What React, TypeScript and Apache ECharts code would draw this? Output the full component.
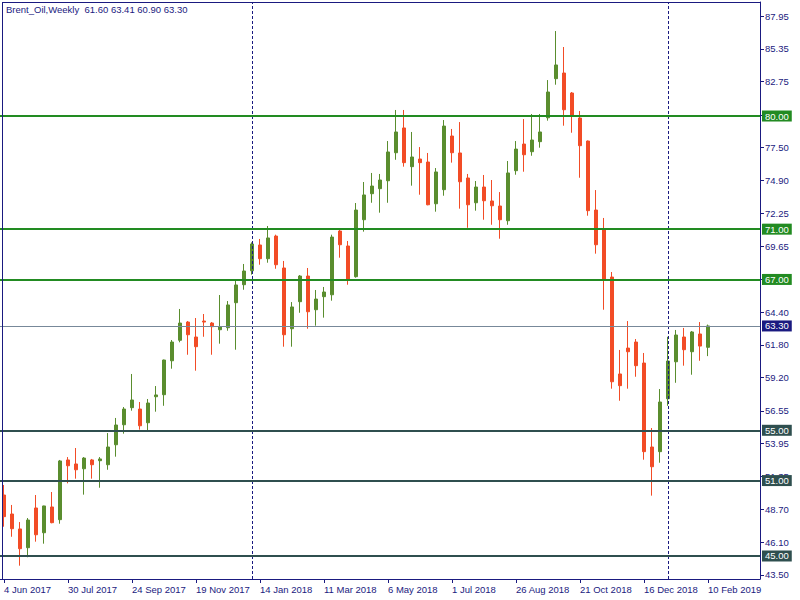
import React, { useEffect, useRef } from "react";
import * as echarts from "echarts";

const SYMBOL = "Brent_Oil,Weekly";
const START_WEEK = [2017, 5, 4]; // 4 Jun 2017 (year, monthIndex, day)
const MONTHS = ["Jan", "Feb", "Mar", "Apr", "May", "Jun", "Jul", "Aug", "Sep", "Oct", "Nov", "Dec"];

const opens = [
  49.85, 48.34, 47.15, 45.66, 48.82, 46.85, 48.9, 47.89, 52.64, 52.32,
  51.94, 52.64, 52.58, 52.26, 53.85, 55.44, 56.8, 56.69, 55.6, 57.67,
  57.83, 60.53, 62.16, 63.61, 62.42, 63.69, 63.53, 63.0, 63.16, 65.15,
  66.58, 67.69, 69.74, 68.65, 70.45, 67.91, 63.08, 65.23, 67.27, 64.59,
  65.63, 65.78, 70.85, 69.66, 67.22, 71.75, 73.82, 74.22, 74.85, 77.08,
  79.05, 75.97, 76.58, 76.34, 73.02, 74.14, 78.41, 77.06, 75.07, 73.1,
  74.35, 73.24, 72.84, 71.67, 75.65, 77.77, 77.16, 77.96, 79.86, 82.97,
  83.42, 81.83, 79.84, 78.01, 72.52, 70.96, 67.19, 59.48, 61.54, 62.02,
  60.35, 53.67, 53.3, 57.51, 60.45, 62.42, 61.25, 62.66, 61.6,
];
const closes = [
  48.13, 47.17, 45.58, 47.86, 46.69, 48.98, 47.65, 52.56, 52.18, 51.86,
  52.79, 52.26, 52.72, 53.67, 55.42, 56.69, 57.41, 55.36, 57.17, 57.81,
  60.59, 62.02, 63.53, 62.6, 61.65, 63.61, 63.24, 63.24, 64.97, 66.56,
  67.67, 69.82, 68.65, 70.3, 68.17, 62.6, 64.81, 67.27, 64.43, 65.44,
  66.0, 70.37, 69.76, 66.98, 72.52, 73.72, 74.43, 74.91, 77.14, 78.73,
  76.29, 76.74, 76.29, 72.94, 75.55, 79.2, 77.08, 74.77, 72.94, 74.35,
  73.26, 72.86, 71.75, 75.47, 77.37, 76.92, 78.09, 78.73, 81.91, 84.06,
  80.5, 80.02, 77.64, 72.47, 69.76, 66.98, 58.86, 58.55, 61.25, 60.14,
  53.3, 52.1, 57.25, 60.51, 62.58, 61.41, 62.82, 61.7, 63.3,
];
const lows = [
  47.33, 46.53, 44.23, 44.9, 46.14, 45.98, 47.6, 47.57, 50.78, 51.15,
  49.88, 51.15, 50.43, 51.86, 52.9, 54.73, 56.56, 55.05, 54.97, 56.48,
  56.95, 59.9, 62.0, 61.01, 59.74, 62.44, 61.01, 61.89, 62.92, 61.41,
  66.18, 67.38, 68.17, 68.33, 67.85, 61.65, 61.65, 64.35, 63.08, 63.32,
  63.96, 65.31, 68.73, 66.58, 67.14, 70.8, 73.1, 72.31, 73.1, 76.52,
  75.97, 74.46, 73.74, 72.9, 72.39, 73.66, 76.29, 72.63, 71.11, 72.47,
  71.75, 71.35, 70.24, 71.35, 75.33, 75.57, 76.84, 77.48, 79.63, 82.49,
  79.23, 78.67, 75.09, 72.07, 69.05, 64.59, 58.31, 57.35, 58.31, 59.26,
  52.66, 49.8, 52.42, 56.95, 58.78, 60.14, 59.42, 60.53, 60.9,
];
const highs = [
  50.65, 49.06, 47.7, 48.02, 49.85, 49.0, 50.09, 52.64, 52.87, 53.59,
  52.87, 52.72, 52.87, 54.78, 55.98, 56.85, 59.48, 57.25, 57.49, 58.52,
  60.62, 62.18, 64.65, 63.69, 63.93, 64.25, 63.61, 65.76, 65.28, 66.95,
  68.23, 69.95, 70.22, 71.25, 70.56, 68.47, 65.2, 67.35, 67.91, 66.16,
  66.4, 70.56, 71.01, 70.06, 73.08, 74.75, 75.47, 75.39, 78.01, 80.48,
  80.48, 78.73, 77.53, 77.06, 75.86, 79.68, 78.97, 79.52, 75.39, 74.83,
  75.31, 74.91, 73.95, 76.42, 78.01, 79.76, 80.16, 80.16, 82.86, 86.76,
  85.49, 81.91, 80.4, 78.05, 74.11, 71.89, 67.59, 61.39, 63.69, 62.26,
  61.15, 55.18, 58.28, 62.44, 62.98, 63.14, 62.9, 63.61, 63.41,
];

const priceTicks = [
  43.5, 46.1, 48.7, 51.35, 53.95, 56.55, 59.2, 61.8, 64.4, 67.0,
  69.65, 72.25, 74.9, 77.5, 80.1, 82.75, 85.35, 87.95,
];
const greenLevels = [80, 71, 67];
const slateLevels = [55, 51, 45];
const currentPrice = 63.3;
const yearSeparators = ["7 Jan 2018", "6 Jan 2019"];
const emptyWeeksRight = 6;
const priceMin = 43.17;
const priceMax = 89.07;

const NAVY = "#1a1a80";
const BULL = "#5a8d2e";
const BEAR = "#f24c26";
const GREEN_LINE = "#228b22";
const SLATE_LINE = "#2f4f4f";
const PRICE_LINE = "#778899";
const FONT = "Liberation Sans, Arial, sans-serif";
const FS = 9.5;

function weekLabel(i: number): string {
  const d = new Date(Date.UTC(START_WEEK[0], START_WEEK[1], START_WEEK[2] + 7 * i));
  return `${d.getUTCDate()} ${MONTHS[d.getUTCMonth()]} ${d.getUTCFullYear()}`;
}

export default function App() {
  const ref = useRef<HTMLDivElement>(null);

  useEffect(() => {
    if (!ref.current) return;
    const chart = echarts.init(ref.current, null, { renderer: "svg" });
    const n = opens.length;
    const categories: string[] = [];
    for (let i = 0; i < n + emptyWeeksRight; i++) categories.push(weekLabel(i));
    const data = opens.map((o, i) => [o, closes[i], lows[i], highs[i]]);
    const last = n - 1;
    const titleText = `${SYMBOL}  ${opens[last].toFixed(2)} ${highs[last].toFixed(2)} ${lows[last].toFixed(2)} ${closes[last].toFixed(2)}`;

    const levelLabel = (bg: string) => ({
      show: true,
      position: "end",
      distance: 2,
      formatter: (p: any) => Number(p.value).toFixed(2),
      color: "#ffffff",
      backgroundColor: bg,
      fontSize: FS,
      fontFamily: FONT,
      padding: [1, 3, 0, 3],
      lineHeight: 10,
    });

    const markData: any[] = [
      ...yearSeparators.map((name) => ({
        xAxis: name,
        lineStyle: { color: NAVY, width: 1, type: [3, 2] },
        label: { show: false },
      })),
      ...greenLevels.map((v) => ({
        yAxis: v,
        lineStyle: { color: GREEN_LINE, width: 2, type: "solid" },
        label: levelLabel(GREEN_LINE),
      })),
      ...slateLevels.map((v) => ({
        yAxis: v,
        lineStyle: { color: SLATE_LINE, width: 2, type: "solid" },
        label: levelLabel(SLATE_LINE),
      })),
      {
        yAxis: currentPrice,
        lineStyle: { color: PRICE_LINE, width: 1, type: "solid" },
        label: levelLabel(NAVY),
      },
    ];

    chart.setOption({
      animation: false,
      backgroundColor: "#ffffff",
      title: {
        text: titleText,
        left: 6,
        top: 4,
        padding: 0,
        textStyle: { fontSize: FS, color: NAVY, fontWeight: "normal", fontFamily: FONT },
      },
      grid: { left: 0, right: 40, top: 2, bottom: 21, containLabel: false },
      xAxis: {
        type: "category",
        data: categories,
        boundaryGap: true,
        axisLine: { show: true, lineStyle: { color: NAVY, width: 1 } },
        axisTick: { show: true, interval: 7, alignWithLabel: true, length: 4, lineStyle: { color: NAVY } },
        axisLabel: {
          interval: 7,
          align: "left",
          margin: 5,
          color: NAVY,
          fontSize: FS,
          fontFamily: FONT,
        },
        splitLine: { show: false },
      },
      yAxis: {
        type: "value",
        position: "right",
        min: priceMin,
        max: priceMax,
        axisLine: { show: true, lineStyle: { color: NAVY, width: 1 } },
        axisTick: { show: true, length: 4, lineStyle: { color: NAVY }, customValues: priceTicks },
        axisLabel: {
          customValues: priceTicks,
          formatter: (v: number) => v.toFixed(2),
          color: NAVY,
          fontSize: FS,
          fontFamily: FONT,
          margin: 5,
        },
        splitLine: { show: false },
      },
      graphic: [
        { type: "line", shape: { x1: 2.5, y1: 2, x2: 2.5, y2: 579 }, style: { stroke: NAVY, lineWidth: 1 }, z: 10 },
        { type: "line", shape: { x1: 2, y1: 2.5, x2: 760, y2: 2.5 }, style: { stroke: NAVY, lineWidth: 1 }, z: 10 },
      ],
      series: [
        {
          type: "candlestick",
          data,
          barWidth: 4,
          itemStyle: {
            color: BULL,
            color0: BEAR,
            borderColor: BULL,
            borderColor0: BEAR,
            borderWidth: 1,
          },
          markLine: {
            silent: true,
            symbol: ["none", "none"],
            precision: 2,
            data: markData,
          },
        },
      ],
    });
    return () => chart.dispose();
  }, []);

  return (
    <div
      ref={ref}
      style={{ position: "fixed", left: 0, top: 0, width: 800, height: 600, background: "#fff" }}
    />
  );
}
